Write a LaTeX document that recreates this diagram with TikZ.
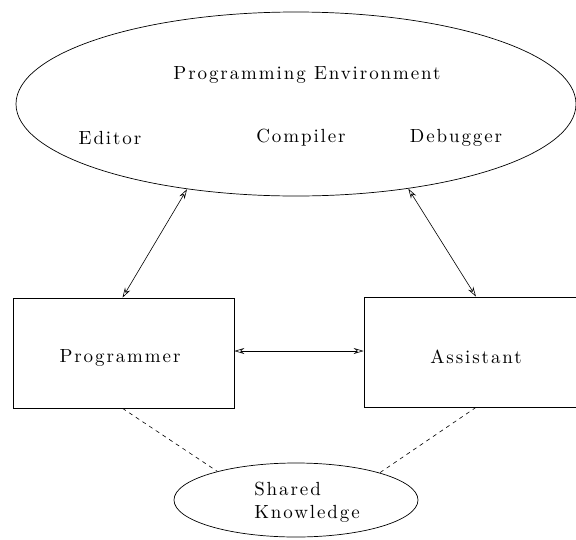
\documentclass[tikz,border=0pt]{standalone}
\usepackage{fontspec}
\setmainfont{lmroman10-regular.otf}[LetterSpace=10]
\usetikzlibrary{arrows.meta,shapes.geometric}
\tikzset{
  every node/.style={font=\fontsize{19}{23}\selectfont},
  blob/.style={draw,ellipse,inner sep=0pt,line width=0.7pt},
  agent/.style={draw,rectangle,inner sep=0pt,line width=0.7pt},
  label/.style={inner sep=0pt,anchor=center},
  link/.style={line width=0.6pt,{Stealth[open,length=10pt,width=6pt]}-{Stealth[open,length=10pt,width=6pt]}},
  share/.style={line width=0.6pt,dash pattern=on 4pt off 4pt}
}
\begin{document}
\begin{tikzpicture}[x=1pt,y=-1pt]
  \useasboundingbox (0,0) rectangle (576,539);

  % programming environment
  \node[blob,minimum width=560pt,minimum height=184pt] (env) at (296,104) {};
  \node[label] (envtitle) at (307,75) {Programming Environment};
  \node[label] (editor) at (110,138) {Editor};
  \node[label] (compiler) at (301,138) {Compiler};
  \node[label] (debugger) at (456,138) {Debugger};

  % the two agents
  \node[agent,minimum width=221pt,minimum height=110pt] (prog) at (123.5,353) {};
  \node[label] at (120,358) {Programmer};
  \node[agent,minimum width=212pt,minimum height=110pt] (asst) at (470,352) {};
  \node[label] at (476,357) {Assistant};

  % shared knowledge
  \node[blob,minimum width=244pt,minimum height=74pt] (sk) at (296,500) {};
  \node[label,align=left] (sktext) at (307,502) {Shared\\Knowledge};

  % connectors
  \draw[link] (env.218) -- ([xshift=-1pt]prog.north);
  \draw[link] (env.-37) -- ([xshift=6pt]asst.north);
  \draw[link] (prog.east |- 0,351) -- (asst.west |- 0,351);
  \draw[share] ([xshift=-1pt]prog.south) -- (sk.160);
  \draw[share] ([xshift=6pt]asst.south) -- (sk.18);
\end{tikzpicture}
\end{document}
